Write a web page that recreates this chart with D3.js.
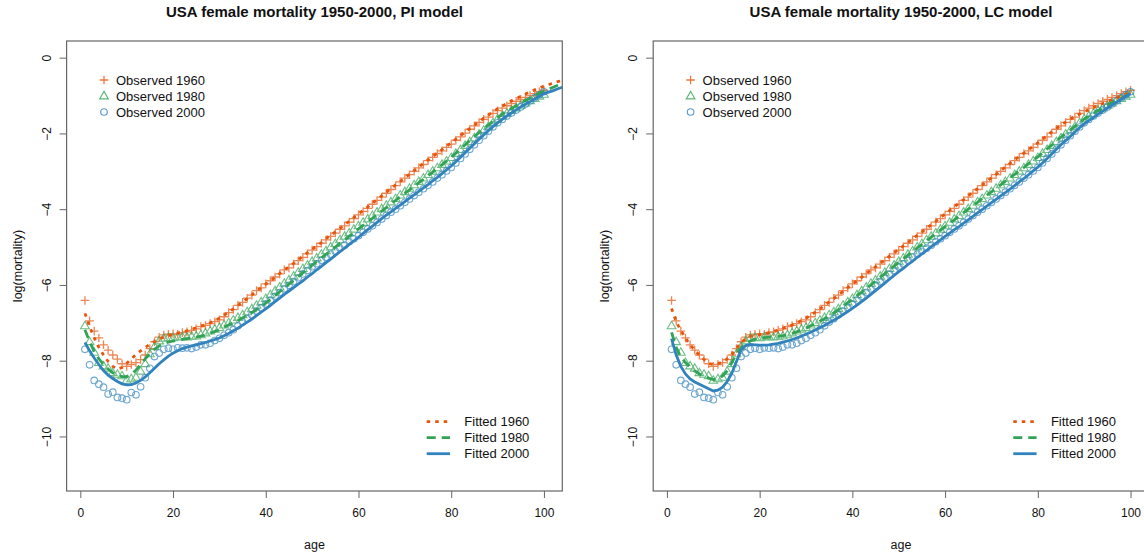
<!DOCTYPE html>
<html><head><meta charset="utf-8">
<script src="https://cdn.jsdelivr.net/npm/d3@7"></script>
<style>
html,body{margin:0;padding:0;background:#fff;}
svg{display:block;font-family:"Liberation Sans",Arial,Helvetica,sans-serif;}
</style></head>
<body><svg id="chart" width="1144" height="554"></svg>
<script>
// ---------------- data ----------------
const obsAges = d3.range(1, 101);
const piAges = d3.range(1, 105);
const lcAges = d3.range(1, 101);
const xTicks = [0, 20, 40, 60, 80, 100];
const yTicks = [0, -2, -4, -6, -8, -10];
const titles = ["USA female mortality 1950-2000, PI model", "USA female mortality 1950-2000, LC model"];
const obsLabels = ["Observed 1960", "Observed 1980", "Observed 2000"];
const fitLabels = ["Fitted 1960", "Fitted 1980", "Fitted 2000"];

const obs1960 = [-6.41,-6.95,-7.22,-7.40,-7.58,-7.72,-7.85,-7.96,-8.08,-8.15,
-8.10,-8.05,-7.97,-7.85,-7.68,-7.50,-7.38,-7.32,-7.30,-7.29,
-7.30,-7.26,-7.24,-7.20,-7.16,-7.10,-7.07,-7.02,-6.97,-6.92,
-6.84,-6.73,-6.65,-6.54,-6.46,-6.35,-6.27,-6.15,-6.08,-5.97,
-5.89,-5.79,-5.71,-5.60,-5.55,-5.45,-5.36,-5.27,-5.18,-5.08,
-4.99,-4.90,-4.81,-4.72,-4.63,-4.53,-4.44,-4.34,-4.25,-4.15,
-4.06,-3.98,-3.87,-3.77,-3.68,-3.58,-3.48,-3.38,-3.28,-3.18,
-3.09,-3.00,-2.91,-2.82,-2.72,-2.63,-2.53,-2.46,-2.37,-2.28,
-2.18,-2.09,-1.99,-1.89,-1.80,-1.71,-1.63,-1.57,-1.47,-1.40,
-1.33,-1.27,-1.21,-1.15,-1.10,-1.05,-1.00,-0.95,-0.90,-0.86];
const obs1980 = [-7.08,-7.50,-7.78,-8.05,-8.14,-8.20,-8.32,-8.36,-8.40,-8.52,
-8.48,-8.44,-8.28,-8.08,-7.82,-7.63,-7.48,-7.41,-7.39,-7.40,
-7.38,-7.37,-7.38,-7.36,-7.35,-7.32,-7.27,-7.22,-7.17,-7.13,
-7.06,-7.00,-6.93,-6.86,-6.79,-6.71,-6.63,-6.54,-6.45,-6.36,
-6.26,-6.16,-6.06,-5.96,-5.87,-5.77,-5.67,-5.57,-5.48,-5.38,
-5.29,-5.19,-5.10,-5.00,-4.91,-4.81,-4.72,-4.63,-4.53,-4.44,
-4.35,-4.26,-4.17,-4.08,-3.99,-3.90,-3.81,-3.72,-3.63,-3.54,
-3.45,-3.36,-3.27,-3.18,-3.09,-3.00,-2.91,-2.82,-2.73,-2.64,
-2.53,-2.43,-2.32,-2.22,-2.12,-2.02,-1.92,-1.82,-1.72,-1.62,
-1.54,-1.47,-1.40,-1.33,-1.26,-1.20,-1.14,-1.08,-1.02,-0.97];
const obs2000 = [-7.70,-8.11,-8.52,-8.62,-8.70,-8.88,-8.83,-8.97,-8.99,-9.03,
-8.84,-8.90,-8.69,-8.45,-8.20,-7.89,-7.80,-7.70,-7.67,-7.70,
-7.66,-7.67,-7.66,-7.68,-7.64,-7.58,-7.58,-7.54,-7.47,-7.41,
-7.33,-7.26,-7.18,-7.08,-6.98,-6.89,-6.79,-6.69,-6.60,-6.50,
-6.40,-6.30,-6.20,-6.10,-6.01,-5.91,-5.81,-5.71,-5.62,-5.52,
-5.44,-5.35,-5.27,-5.19,-5.11,-5.03,-4.95,-4.86,-4.78,-4.70,
-4.61,-4.52,-4.44,-4.35,-4.26,-4.17,-4.08,-4.00,-3.91,-3.82,
-3.73,-3.64,-3.55,-3.46,-3.37,-3.28,-3.18,-3.09,-2.99,-2.90,
-2.78,-2.66,-2.54,-2.42,-2.30,-2.18,-2.06,-1.94,-1.83,-1.72,
-1.63,-1.54,-1.46,-1.38,-1.30,-1.22,-1.14,-1.06,-0.98,-0.90];

const pi1960 = [-6.75,-7.10,-7.40,-7.65,-7.85,-8.02,-8.15,-8.22,-8.18,-8.07,
-7.95,-7.84,-7.74,-7.65,-7.57,-7.49,-7.43,-7.38,-7.34,-7.30,
-7.27,-7.24,-7.21,-7.17,-7.13,-7.09,-7.05,-7.00,-6.94,-6.88,
-6.80,-6.72,-6.63,-6.54,-6.45,-6.36,-6.26,-6.17,-6.07,-5.98,
-5.89,-5.80,-5.70,-5.61,-5.52,-5.43,-5.34,-5.24,-5.15,-5.06,
-4.97,-4.88,-4.78,-4.69,-4.60,-4.51,-4.41,-4.32,-4.22,-4.13,
-4.03,-3.94,-3.84,-3.75,-3.65,-3.55,-3.46,-3.36,-3.27,-3.17,
-3.08,-2.98,-2.89,-2.79,-2.70,-2.61,-2.52,-2.43,-2.34,-2.25,
-2.15,-2.06,-1.96,-1.87,-1.78,-1.69,-1.60,-1.52,-1.43,-1.35,
-1.28,-1.21,-1.14,-1.08,-1.02,-0.96,-0.90,-0.85,-0.80,-0.75,
-0.71,-0.67,-0.63,-0.60];
const pi1980 = [-7.18,-7.50,-7.75,-7.95,-8.10,-8.22,-8.32,-8.38,-8.42,-8.42,
-8.36,-8.25,-8.10,-7.95,-7.82,-7.70,-7.61,-7.55,-7.51,-7.48,
-7.46,-7.44,-7.42,-7.40,-7.38,-7.35,-7.32,-7.28,-7.23,-7.18,
-7.12,-7.06,-7.00,-6.94,-6.87,-6.80,-6.73,-6.65,-6.57,-6.48,
-6.38,-6.28,-6.18,-6.08,-5.98,-5.88,-5.78,-5.68,-5.58,-5.48,
-5.38,-5.29,-5.19,-5.10,-5.00,-4.90,-4.81,-4.71,-4.62,-4.52,
-4.43,-4.33,-4.24,-4.14,-4.05,-3.96,-3.86,-3.77,-3.67,-3.58,
-3.49,-3.40,-3.30,-3.21,-3.12,-3.02,-2.92,-2.83,-2.73,-2.63,
-2.52,-2.41,-2.30,-2.19,-2.08,-1.98,-1.88,-1.78,-1.68,-1.58,
-1.49,-1.41,-1.34,-1.27,-1.20,-1.13,-1.07,-1.00,-0.94,-0.88,
-0.83,-0.78,-0.73,-0.68];
const pi2000 = [-7.52,-7.74,-7.93,-8.10,-8.26,-8.38,-8.47,-8.55,-8.61,-8.64,
-8.63,-8.59,-8.52,-8.43,-8.32,-8.20,-8.08,-7.98,-7.88,-7.80,
-7.74,-7.68,-7.64,-7.61,-7.58,-7.55,-7.52,-7.48,-7.44,-7.40,
-7.34,-7.28,-7.21,-7.14,-7.06,-6.98,-6.90,-6.81,-6.72,-6.63,
-6.54,-6.44,-6.35,-6.25,-6.16,-6.07,-5.98,-5.89,-5.79,-5.70,
-5.60,-5.51,-5.41,-5.32,-5.22,-5.12,-5.03,-4.93,-4.84,-4.74,
-4.64,-4.54,-4.45,-4.35,-4.25,-4.16,-4.07,-3.98,-3.89,-3.80,
-3.71,-3.62,-3.53,-3.44,-3.35,-3.25,-3.16,-3.06,-2.96,-2.86,
-2.75,-2.63,-2.51,-2.39,-2.27,-2.15,-2.04,-1.93,-1.82,-1.72,
-1.63,-1.54,-1.46,-1.38,-1.30,-1.23,-1.16,-1.09,-1.02,-0.95,
-0.91,-0.87,-0.82,-0.78];

const lc1960 = [-6.62,-6.97,-7.20,-7.40,-7.58,-7.72,-7.86,-7.97,-8.07,-8.10,
-8.08,-8.03,-7.95,-7.83,-7.68,-7.52,-7.42,-7.36,-7.33,-7.31,
-7.29,-7.26,-7.23,-7.19,-7.15,-7.10,-7.06,-7.00,-6.94,-6.88,
-6.80,-6.72,-6.63,-6.54,-6.45,-6.36,-6.26,-6.17,-6.07,-5.98,
-5.89,-5.80,-5.70,-5.61,-5.52,-5.43,-5.34,-5.24,-5.15,-5.06,
-4.97,-4.88,-4.78,-4.69,-4.60,-4.51,-4.41,-4.32,-4.22,-4.13,
-4.03,-3.94,-3.84,-3.75,-3.65,-3.55,-3.46,-3.36,-3.27,-3.17,
-3.08,-2.98,-2.89,-2.79,-2.70,-2.61,-2.52,-2.43,-2.34,-2.25,
-2.15,-2.06,-1.96,-1.87,-1.78,-1.70,-1.62,-1.55,-1.49,-1.43,
-1.37,-1.32,-1.26,-1.21,-1.16,-1.11,-1.06,-1.01,-0.97,-0.92];
const lc1980 = [-7.25,-7.65,-7.90,-8.05,-8.17,-8.27,-8.35,-8.41,-8.46,-8.50,
-8.48,-8.40,-8.27,-8.05,-7.82,-7.65,-7.55,-7.48,-7.43,-7.40,
-7.39,-7.38,-7.37,-7.36,-7.34,-7.32,-7.28,-7.24,-7.19,-7.14,
-7.08,-7.02,-6.96,-6.89,-6.82,-6.74,-6.65,-6.56,-6.47,-6.38,
-6.28,-6.19,-6.09,-6.00,-5.90,-5.80,-5.70,-5.60,-5.50,-5.40,
-5.31,-5.21,-5.12,-5.02,-4.93,-4.84,-4.74,-4.65,-4.55,-4.46,
-4.37,-4.28,-4.18,-4.09,-4.00,-3.91,-3.82,-3.72,-3.63,-3.54,
-3.45,-3.36,-3.26,-3.17,-3.08,-2.99,-2.90,-2.80,-2.71,-2.62,
-2.52,-2.41,-2.31,-2.20,-2.10,-2.00,-1.91,-1.81,-1.72,-1.62,
-1.55,-1.47,-1.40,-1.32,-1.25,-1.19,-1.13,-1.07,-1.01,-0.95];
const lc2000 = [-7.42,-7.85,-8.15,-8.35,-8.48,-8.56,-8.62,-8.68,-8.74,-8.80,
-8.78,-8.70,-8.55,-8.33,-8.02,-7.72,-7.60,-7.57,-7.58,-7.59,
-7.59,-7.58,-7.56,-7.54,-7.51,-7.48,-7.44,-7.40,-7.35,-7.30,
-7.25,-7.19,-7.13,-7.07,-7.00,-6.93,-6.86,-6.78,-6.70,-6.62,
-6.53,-6.44,-6.35,-6.25,-6.15,-6.05,-5.95,-5.85,-5.75,-5.65,
-5.56,-5.46,-5.37,-5.27,-5.18,-5.09,-4.99,-4.90,-4.81,-4.72,
-4.63,-4.54,-4.46,-4.37,-4.28,-4.19,-4.10,-4.01,-3.92,-3.83,
-3.74,-3.65,-3.56,-3.47,-3.38,-3.28,-3.19,-3.09,-2.99,-2.89,
-2.78,-2.66,-2.54,-2.42,-2.30,-2.19,-2.08,-1.96,-1.85,-1.75,
-1.66,-1.58,-1.49,-1.41,-1.33,-1.25,-1.17,-1.10,-1.02,-0.95];

// ---------------- styling ----------------
const colors = ["#E6550D", "#31A354", "#3182BD"];
const dashes = ["3.5,5", "9,6", null];
const FONT = '"Liberation Sans",Arial,Helvetica,sans-serif';

const svg = d3.select("#chart");

function drawPanel(idx, ox, fitAges, fits) {
  const g = svg.append("g").attr("transform", `translate(${ox},0)`);
  const x = d3.scaleLinear().domain([-2.96, 103.96]).range([66.6, 562.3]);
  const y = d3.scaleLinear().domain([-11.44, 0.44]).range([491, 41]);
  const [x0, x1] = x.range(), [y1, y0] = y.range();

  const clipId = "clip" + idx;
  g.append("clipPath").attr("id", clipId).append("rect")
    .attr("x", x0).attr("y", y0).attr("width", x1 - x0).attr("height", y1 - y0);

  // title
  g.append("text").attr("x", (x0 + x1) / 2).attr("y", 17).attr("text-anchor", "middle")
    .attr("font-size", 15).attr("font-weight", "bold").attr("fill", "#111").text(titles[idx]);

  // axes
  const xAxis = d3.axisBottom(x).tickValues(xTicks).tickSize(7).tickPadding(10).tickFormat(d3.format("d"));
  const gx = g.append("g").attr("transform", `translate(0,${y1})`).call(xAxis);
  gx.select(".domain").remove();
  gx.selectAll("line").attr("stroke", "#666");
  gx.selectAll("text").attr("font-size", 12).attr("font-family", FONT).attr("fill", "#111");

  const yAxis = d3.axisLeft(y).tickValues(yTicks).tickSize(7).tickFormat(d3.format("d"));
  const gy = g.append("g").attr("transform", `translate(${x0},0)`).call(yAxis);
  gy.select(".domain").remove();
  gy.selectAll("line").attr("stroke", "#666");
  gy.selectAll("text").attr("font-size", 12).attr("font-family", FONT).attr("fill", "#111")
    .attr("x", 0).attr("dy", null).attr("text-anchor", "middle")
    .attr("transform", "translate(-20,0) rotate(-90)").attr("dominant-baseline", "central");

  // axis titles
  g.append("text").attr("x", (x0 + x1) / 2).attr("y", 549).attr("text-anchor", "middle")
    .attr("font-size", 12.5).attr("fill", "#111").text("age");
  g.append("text").attr("transform", `translate(18,${(y0 + y1) / 2}) rotate(-90)`)
    .attr("text-anchor", "middle").attr("dominant-baseline", "central")
    .attr("font-size", 12.5).attr("fill", "#111").text("log(mortality)");

  const plot = g.append("g").attr("clip-path", `url(#${clipId})`);

  // observed points
  const obs = [obs1960, obs1980, obs2000];
  function marker(sel, k, cx, cy) {
    if (k === 0) {
      sel.append("path").attr("d", `M${cx - 4.3},${cy}H${cx + 4.3}M${cx},${cy - 4.3}V${cy + 4.3}`)
        .attr("stroke", colors[0]).attr("stroke-width", 1.3).attr("fill", "none");
    } else if (k === 1) {
      const r = 4.6;
      sel.append("path").attr("d", `M${cx},${cy - r}L${cx + r * 0.95},${cy + r * 0.62}L${cx - r * 0.95},${cy + r * 0.62}Z`)
        .attr("stroke", colors[1]).attr("stroke-width", 1.1).attr("fill", "none");
    } else {
      sel.append("circle").attr("cx", cx).attr("cy", cy).attr("r", 3.3)
        .attr("stroke", colors[2]).attr("stroke-width", 1.1).attr("fill", "none");
    }
  }
  obs.forEach((arr, k) => {
    const pg = plot.append("g").attr("opacity", 0.7);
    obsAges.forEach((a, i) => marker(pg, k, x(a), y(arr[i])));
  });

  // fitted lines
  const line = d3.line().x(d => x(d[0])).y(d => y(d[1]));
  fits.forEach((arr, k) => {
    const pts = fitAges.map((a, i) => [a, arr[i]]);
    plot.append("path").attr("d", line(pts)).attr("fill", "none")
      .attr("stroke", colors[k]).attr("stroke-width", 2.8)
      .attr("stroke-dasharray", dashes[k]);
  });

  // box
  g.append("rect").attr("x", x0).attr("y", y0).attr("width", x1 - x0).attr("height", y1 - y0)
    .attr("fill", "none").attr("stroke", "#666").attr("stroke-width", 1.2);

  // legend top-left (observed)
  const lg = g.append("g");
  obsLabels.forEach((t, k) => {
    const cy = 80 + k * 16;
    const mg = lg.append("g").attr("opacity", 0.8);
    marker(mg, k, 104, cy);
    lg.append("text").attr("x", 116).attr("y", cy).attr("dominant-baseline", "central")
      .attr("font-size", 13).attr("fill", "#111").text(t);
  });
  // legend bottom-right (fitted)
  fitLabels.forEach((t, k) => {
    const cy = 421.7 + k * 16;
    lg.append("line").attr("x1", 426.7).attr("x2", 450).attr("y1", cy).attr("y2", cy)
      .attr("stroke", colors[k]).attr("stroke-width", 2.8).attr("stroke-dasharray", dashes[k]);
    lg.append("text").attr("x", 464.3).attr("y", cy).attr("dominant-baseline", "central")
      .attr("font-size", 13).attr("fill", "#111").text(t);
  });
}

drawPanel(0, 0, piAges, [pi1960, pi1980, pi2000]);
drawPanel(1, 586.6, lcAges, [lc1960, lc1980, lc2000]);
</script></body></html>
